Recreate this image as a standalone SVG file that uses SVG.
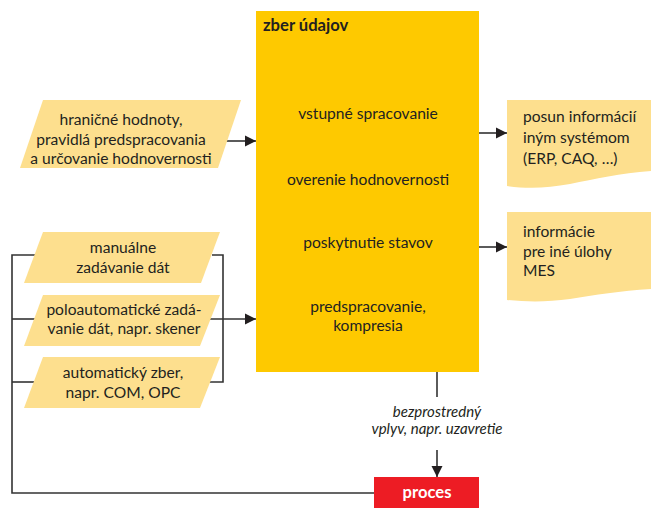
<svg xmlns="http://www.w3.org/2000/svg" width="652" height="508" viewBox="0 0 652 508">
<defs>
<marker id="arr" markerWidth="12" markerHeight="12" refX="11" refY="6" orient="auto" markerUnits="userSpaceOnUse">
<path d="M0,0.5 L11,6 L0,11.5 Z" fill="#231f20"/>
</marker>
<style>
.t{font-family:Lato,"Liberation Sans",sans-serif;font-size:15.6px;fill:#231f20}
.c{text-anchor:middle}
.b{font-weight:bold}
.h{font-size:16.6px}
.i{font-style:italic;font-size:15px}
.in{fill:#fddf8e}
.ln{fill:none;stroke:#333;stroke-width:1.6}
</style>
</defs>
<rect width="652" height="508" fill="#fff"/>
<g id="connectors">
<line class="ln" x1="225" y1="141" x2="256" y2="141" marker-end="url(#arr)"/>
<polyline class="ln" points="212,255 223,255 223,382 205,382"/>
<line class="ln" x1="205" y1="319" x2="256" y2="319" marker-end="url(#arr)"/>
<polyline class="ln" points="35,255 12,255 12,493 374,493"/>
<line class="ln" x1="12" y1="319" x2="35" y2="319"/>
<line class="ln" x1="12" y1="382" x2="35" y2="382"/>
<line class="ln" x1="479" y1="133" x2="507" y2="133" marker-end="url(#arr)"/>
<line class="ln" x1="479" y1="247" x2="507" y2="247" marker-end="url(#arr)"/>
<line class="ln" x1="437" y1="372" x2="437" y2="397"/>
<line class="ln" x1="437" y1="450" x2="437" y2="477" marker-end="url(#arr)"/>
</g>
<g id="main">
<rect x="256" y="11" width="223" height="361" fill="#fec900"/>
<text class="t b h" x="263" y="31">zber údajov</text>
<text class="t c" x="368" y="119">vstupné spracovanie</text>
<text class="t c" x="368" y="185">overenie hodnovernosti</text>
<text class="t c" x="368" y="248">poskytnutie stavov</text>
<text class="t c" x="368" y="312">predspracovanie,</text>
<text class="t c" x="368" y="331">kompresia</text>
</g>
<g id="in1">
<polygon class="in" points="43,100 241,100 218,168 20,168"/>
<text class="t c" x="121" y="125">hraničné hodnoty,</text>
<text class="t c" x="121" y="145">pravidlá predspracovania</text>
<text class="t c" x="121" y="164">a určovanie hodnovernosti</text>
</g>
<g id="in2">
<polygon class="in" points="43,232 220,232 201,283 24,283"/>
<text class="t c" x="123" y="253">manuálne</text>
<text class="t c" x="123" y="273">zadávanie dát</text>
</g>
<g id="in3">
<polygon class="in" points="43,295 220,295 200,346 24,346"/>
<text class="t c" x="124" y="315">poloautomatické zadá-</text>
<text class="t c" x="124" y="334">vanie dát, napr. skener</text>
</g>
<g id="in4">
<polygon class="in" points="43,357 220,357 200,408 24,408"/>
<text class="t c" x="123" y="378">automatický zber,</text>
<text class="t c" x="123" y="398">napr. COM, OPC</text>
</g>
<g id="out1">
<path class="in" d="M507,100 H651 V171 C620,173 595,179 570,184 C548,188 528,189 507,186 Z"/>
<text class="t" x="523" y="122">posun informácií</text>
<text class="t" x="523" y="143">iným systémom</text>
<text class="t" x="523" y="164">(ERP, CAQ, …)</text>
</g>
<g id="out2">
<path class="in" d="M507,212 H651 V289 C620,291 595,295 570,299 C548,302 528,302 507,300 Z"/>
<text class="t" x="523" y="237">informácie</text>
<text class="t" x="523" y="257">pre iné úlohy</text>
<text class="t" x="523" y="276">MES</text>
</g>
<g id="label">
<text class="t c i" x="437" y="417">bezprostredný</text>
<text class="t c i" x="437" y="434">vplyv, napr. uzavretie</text>
</g>
<g id="proces">
<rect x="374" y="477" width="105" height="31" fill="#ed1c24"/>
<text class="t c b h" x="427" y="498" style="fill:#fff">proces</text>
</g>
</svg>
